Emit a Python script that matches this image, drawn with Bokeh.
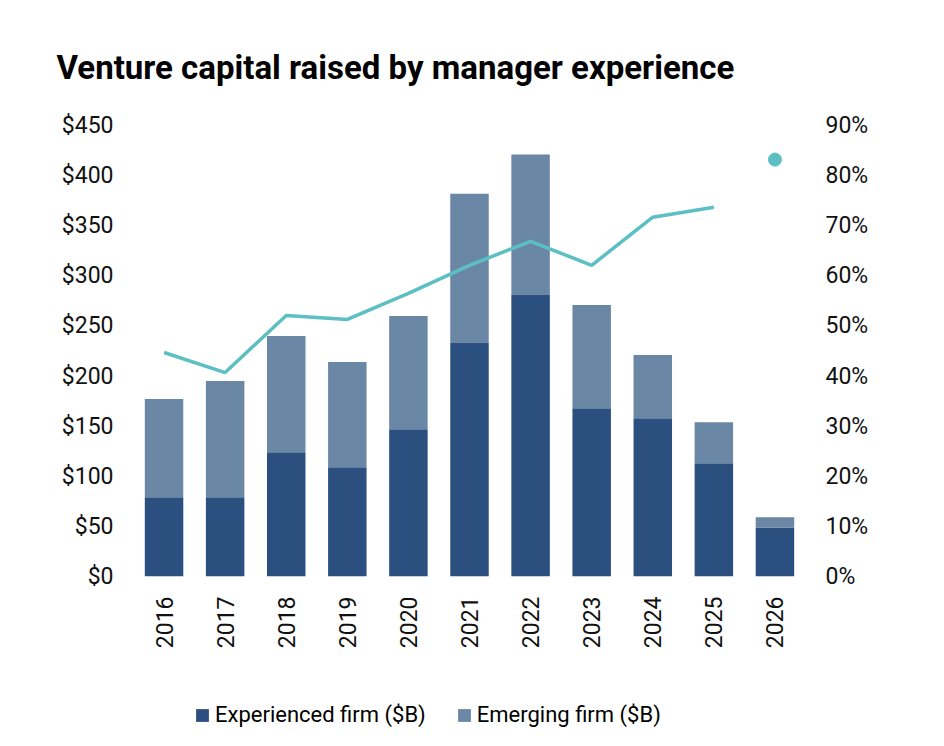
import math
from bokeh.plotting import figure
from bokeh.layouts import column
from bokeh.models import Range1d, LinearAxis, NumeralTickFormatter, Legend, LegendItem, ColumnDataSource, FixedTicker
from bokeh.embed import file_html
from bokeh.resources import INLINE

years = ["2016","2017","2018","2019","2020","2021","2022","2023","2024","2025","2026"]
experienced = [79, 79, 124, 109, 147, 233, 281, 168, 158, 113, 49]
emerging = [98, 116, 116, 105, 113, 149, 140, 103, 63, 41, 10]
experienced_share = [44.7, 40.7, 52.1, 51.3, 56.5, 62.1, 66.9, 62.1, 71.7, 73.7, 83.2]
series_labels = ["Experienced firm ($B)", "Emerging firm ($B)"]
colors = ["#2b4f7e", "#6a87a6"]

FONT = "Roboto"
src = ColumnDataSource(dict(year=years, Experienced=experienced, Emerging=emerging))

p = figure(x_range=years, y_range=Range1d(0, 450), frame_width=672, frame_height=451,
           output_backend="svg", toolbar_location=None,
           title="Venture capital raised by manager experience",
           min_border_left=133, min_border_right=10, min_border_top=125, min_border_bottom=10)
p.title.text_font = FONT
p.title.text_font_size = "33px"
p.title.text_font_style = "bold"
p.title.text_color = "#000000"
p.title.standoff = 78
p.title.offset = -77

p.vbar_stack(["Experienced", "Emerging"], x="year", width=0.63, source=src,
             color=colors, line_color=None)

p.extra_y_ranges = {"pct": Range1d(0, 0.9)}
line_x = years[:-1]
line_y = [v / 100 for v in experienced_share[:-1]]
p.line(line_x, line_y, y_range_name="pct", color="#5bbfc4", line_width=3.5)
p.scatter([years[-1]], [experienced_share[-1] / 100], y_range_name="pct",
          color="#5bbfc4", size=13)

p.yaxis.ticker = FixedTicker(ticks=list(range(0, 451, 50)))
p.yaxis.formatter = NumeralTickFormatter(format="$0")
ax2 = LinearAxis(y_range_name="pct", formatter=NumeralTickFormatter(format="0%"),
                 ticker=FixedTicker(ticks=[i / 10 for i in range(10)]))
p.add_layout(ax2, "right")

for ax in p.axis:
    ax.axis_line_color = None
    ax.major_tick_line_color = None
    ax.minor_tick_line_color = None
    ax.major_label_text_font = FONT
    ax.major_label_text_font_size = "23px"
    ax.major_label_text_color = "#111111"
    ax.major_label_standoff = 14
p.xaxis.major_label_orientation = math.pi / 2
p.xaxis.major_label_standoff = 14
p.xgrid.grid_line_color = None
p.ygrid.grid_line_color = None
p.outline_line_color = None
p.x_range.range_padding = 0.0

# legend-only strip
q = figure(width=928, height=88, x_range=Range1d(0, 1), y_range=Range1d(0, 1),
           output_backend="svg", toolbar_location=None, min_border=0)
q.axis.visible = False
q.grid.visible = False
q.outline_line_color = None
items = []
for lab, c in zip(series_labels, colors):
    rr = q.vbar(x=[-10], top=[-10], bottom=[-11], width=0.1, color=c, line_color=None)
    items.append(LegendItem(label=lab, renderers=[rr]))
legend = Legend(items=items, orientation="horizontal", location=(61, 12),
                label_text_font=FONT, label_text_font_size="22px", label_text_color="#000000",
                glyph_width=16, glyph_height=16, spacing=30, border_line_color=None,
                background_fill_alpha=0, margin=0, padding=5)
q.add_layout(legend, "center")

layout = column(p, q, spacing=0)
open("out.html", "w").write(file_html(layout, INLINE))
